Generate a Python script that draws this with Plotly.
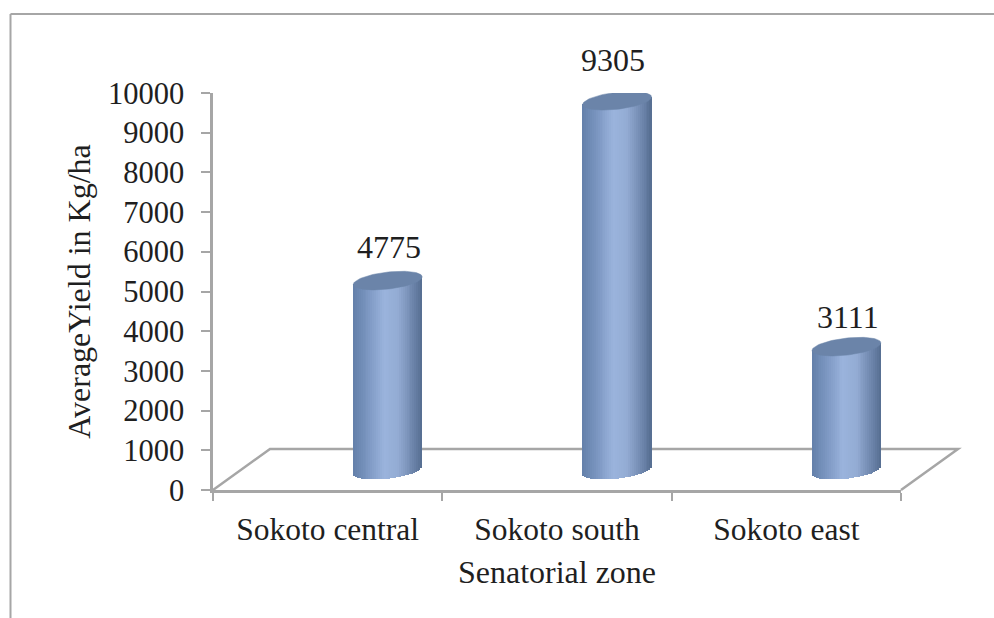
import numpy as np
import plotly.graph_objects as go

categories = ["Sokoto central", "Sokoto south", "Sokoto east"]
values = [4775, 9305, 3111]
y_ticks = [0, 1000, 2000, 3000, 4000, 5000, 6000, 7000, 8000, 9000, 10000]

# 3-D look: depth of the floor in axis units
DEPTH_Y = 500
FLOOR_BACK = 1033
DEPTH_X = 0.262
HALF_W = 0.15
ELL_B = 215     # vertical semi-axis in y units
ELL_K = 95      # tilt in y units
N = 36
FONT = "Liberation Serif"
TXT = "#1f1f1f"
GREY = "#a6a6a6"
label_shift_x = [1, -4, 2]
label_shift_y = [34, 41, 30]

stops = [(0, (100, 128, 170)), (0.2, (122, 149, 192)), (0.45, (155, 180, 221)),
         (0.65, (148, 172, 212)), (0.88, (108, 132, 170)), (1, (86, 110, 145))]

def colour(f):
    xs = [s[0] for s in stops]
    return "rgb(%d,%d,%d)" % tuple(np.interp(f, xs, [s[1][i] for s in stops]) for i in range(3))

centres = np.arange(len(categories)) + DEPTH_X
fig = go.Figure()
w = 2 * HALF_W / N
for i in range(N):
    t = -1 + (2 * i + 1) / N
    bottom = DEPTH_Y + ELL_K * t - ELL_B * np.sqrt(1 - t * t)
    tops = np.array(values) + DEPTH_Y + ELL_K * t
    fig.add_bar(x=centres + t * HALF_W, y=tops - bottom, base=[bottom] * 3,
                width=w * 1.25, marker=dict(color=colour((t + 1) / 2), line=dict(width=0)),
                showlegend=False, hoverinfo="skip")

theta = np.linspace(0, 2 * np.pi, 90)
for c, v, sx, sy in zip(centres, values, label_shift_x, label_shift_y):
    fig.add_scatter(x=c + HALF_W * np.cos(theta),
                    y=v + DEPTH_Y + ELL_K * np.cos(theta) + ELL_B * np.sin(theta),
                    mode="lines", fill="toself", fillcolor="#6b84a9",
                    line=dict(color="#6b84a9", width=0.5), showlegend=False,
                    hoverinfo="skip", cliponaxis=False)
    fig.add_annotation(x=c, y=v + DEPTH_Y, text=str(v), showarrow=False,
                       yanchor="middle", xshift=sx, yshift=sy,
                       font=dict(family=FONT, size=32, color=TXT))

L, R, T, B = 213, 93, 93, 128
W, H = 994, 618
pw = (W - L - R)
ph = (H - T - B)
dx = 57 / pw
fy = FLOOR_BACK / 10000
shapes = [
    dict(type="path", xref="paper", yref="paper", layer="below",
         path=f"M 0 0 L {dx} {fy} L {1 + dx} {fy} L 1 0",
         line=dict(color=GREY, width=2.5)),
    dict(type="line", xref="paper", yref="paper", x0=(10.5 - L) / pw, x1=(W - L) / pw,
         y0=(H - 14 - B) / ph, y1=(H - 14 - B) / ph, line=dict(color=GREY, width=2)),
    dict(type="line", xref="paper", yref="paper", x0=(10.5 - L) / pw, x1=(10.5 - L) / pw,
         y0=(H - 14 - B) / ph, y1=-B / ph, line=dict(color=GREY, width=2)),
]

fig.update_layout(
    width=W, height=H, margin=dict(l=L, r=R, t=T, b=B, pad=0),
    paper_bgcolor="white", plot_bgcolor="white", barmode="overlay", bargap=0,
    showlegend=False, shapes=shapes, font=dict(family=FONT, size=30, color=TXT),
    xaxis=dict(range=[-0.5, 2.5], tickmode="array", tickvals=[0, 1, 2], ticktext=categories,
               ticks="", showgrid=False, zeroline=False, showline=True, linecolor=GREY, linewidth=2.5,
               tickfont=dict(family=FONT, size=31.5, color=TXT), ticklabelstandoff=9,
               minor=dict(tickmode="array", tickvals=[-0.5, 0.5, 1.5, 2.5], ticks="outside",
                          ticklen=8, tickwidth=2, tickcolor=GREY, showgrid=False),
               title=dict(text="Senatorial zone", standoff=16,
                          font=dict(family=FONT, size=32, color=TXT))),
    yaxis=dict(range=[0, 10000], tickmode="array", tickvals=y_ticks, tickformat="d",
               ticks="outside", ticklen=9,
               tickwidth=2, tickcolor=GREY, showgrid=False, zeroline=False, showline=True,
               linecolor=GREY, linewidth=2.5, tickfont=dict(family=FONT, size=30.5, color=TXT),
               ticklabelstandoff=11,
               title=dict(text="AverageYield in Kg/ha", standoff=8,
                          font=dict(family=FONT, size=32, color=TXT))),
)

fig.write_html("out.html", config=dict(displayModeBar=False),
               post_script="document.body.style.margin='0';")
